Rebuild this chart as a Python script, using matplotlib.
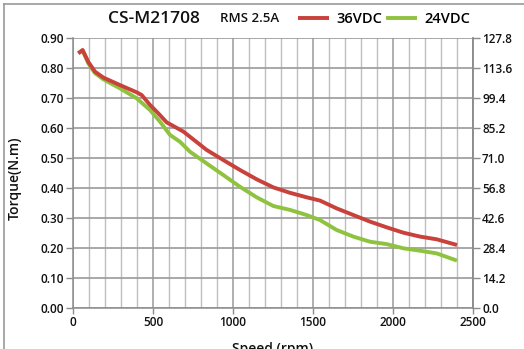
import matplotlib
matplotlib.use("Agg")
import matplotlib.pyplot as plt
from matplotlib.lines import Line2D
from matplotlib.ticker import MultipleLocator, FixedLocator

# Torque-speed curves for CS-M21708 at RMS 2.5A
speed_36 = [33, 60, 96, 137, 190, 294, 398, 429, 481, 533, 585, 690, 835, 940,
            1044, 1148, 1252, 1356, 1460, 1544, 1648, 1752, 1856, 1960, 2065, 2169,
            2273, 2400]
torque_36 = [0.849, 0.860, 0.820, 0.788, 0.768, 0.743, 0.719, 0.710, 0.677, 0.649,
             0.619, 0.588, 0.527, 0.493, 0.460, 0.429, 0.402, 0.384, 0.369,
             0.358, 0.332, 0.310, 0.288, 0.269, 0.251, 0.238, 0.229, 0.210]

speed_24 = [33, 60, 96, 137, 190, 294, 398, 481, 544, 606, 669, 731, 835, 940, 1044,
            1148, 1252, 1356, 1460, 1544, 1648, 1752, 1856, 1960, 2065, 2169, 2273,
            2400]
torque_24 = [0.849, 0.858, 0.815, 0.783, 0.762, 0.732, 0.699, 0.660, 0.621, 0.577,
             0.554, 0.521, 0.482, 0.443, 0.404, 0.369, 0.340, 0.327, 0.310, 0.293,
             0.260, 0.238, 0.221, 0.213, 0.199, 0.191, 0.182, 0.158]

yticks_left = [0.0, 0.1, 0.2, 0.3, 0.4, 0.5, 0.6, 0.7, 0.8, 0.9]
yticks_right = [0.0, 14.2, 28.4, 42.6, 56.8, 71.0, 85.2, 99.4, 113.6, 127.8]
xticks = [0, 500, 1000, 1500, 2000, 2500]

RED = "#c8413b"
GREEN = "#8fc33f"
FONT = "Open Sans"

plt.rcParams["font.family"] = [FONT, "DejaVu Sans"]

fig = plt.figure(figsize=(5.24, 3.49), dpi=100)
ax = fig.add_axes([73 / 524, 1 - 308 / 349, 400 / 524, 270 / 349])

ax.plot(speed_36, torque_36, color=RED, lw=2.8, solid_capstyle="butt", label="36VDC", zorder=4)
ax.plot(speed_24, torque_24, color=GREEN, lw=2.8, solid_capstyle="butt", label="24VDC", zorder=3)

ax.set_xlim(0, 2500)
ax.set_ylim(0, 0.9)
ax.xaxis.set_major_locator(FixedLocator(xticks))
ax.xaxis.set_minor_locator(MultipleLocator(100))
ax.yaxis.set_major_locator(FixedLocator(yticks_left))
ax.set_yticklabels([f"{v:.2f}" for v in yticks_left])

ax.grid(which="minor", axis="x", color="#bdbdbd", lw=1.0)
ax.grid(which="major", axis="x", color="#9a9a9a", lw=1.1)
ax.grid(which="major", axis="y", color="#9a9a9a", lw=1.2)
ax.set_axisbelow(True)

ax.spines["top"].set_visible(False)
for side in ("left", "bottom", "right"):
    ax.spines[side].set_color("#8c8c8c")
    ax.spines[side].set_linewidth(1.1)

ax.tick_params(axis="y", which="major", direction="out", length=5, width=1,
               color="#8c8c8c", pad=1.5)
ax.tick_params(axis="x", which="major", direction="out", length=4, width=1,
               color="#8c8c8c", pad=2)
ax.tick_params(axis="x", which="minor", length=0)
for lab in ax.get_xticklabels() + ax.get_yticklabels():
    lab.set_fontsize(8.5)
    lab.set_fontweight("semibold")
    lab.set_color("#111111")

ax2 = ax.twinx()
ax2.set_ylim(0, 127.8)
ax2.yaxis.set_major_locator(FixedLocator(yticks_right))
ax2.set_yticklabels([f"{v:.1f}" for v in yticks_right])
ax2.tick_params(axis="y", direction="out", length=5, width=1, color="#8c8c8c", pad=1.5)
for lab in ax2.get_yticklabels():
    lab.set_fontsize(8.5)
    lab.set_fontweight("semibold")
    lab.set_color("#111111")
for side in ("top", "left", "bottom"):
    ax2.spines[side].set_visible(False)
ax2.spines["right"].set_color("#8c8c8c")
ax2.spines["right"].set_linewidth(1.1)

ax.set_ylabel("Torque(N.m)", fontsize=10, fontweight="semibold", color="#111111")
ax.yaxis.set_label_coords(-0.128, 0.48)
ax.set_xlabel("Speed (rpm)", fontsize=10, fontweight="semibold", color="#111111")
ax.xaxis.set_label_coords(0.5, -0.15)
ax.xaxis.label.set_va("center")

fig.text(154 / 524, 1 - 19 / 349, "CS-M21708", fontsize=12.5, fontweight="semibold",
         color="#111111", ha="center", va="center")
fig.text(250 / 524, 1 - 19 / 349, "RMS 2.5A", fontsize=9.5, fontweight="semibold",
         color="#111111", ha="center", va="center")

ax.legend(loc="center left", bbox_to_anchor=(298 / 524, 1 - 19 / 349),
          bbox_transform=fig.transFigure, ncol=2, frameon=False,
          handlelength=2.1, handletextpad=0.5, columnspacing=0.3,
          borderpad=0, borderaxespad=0,
          prop={"family": FONT, "size": 10.5, "weight": "semibold"})

# outer frame (left and top edges)
fig.add_artist(Line2D([3.5 / 524, 3.5 / 524], [0, 1 - 3.5 / 349], transform=fig.transFigure,
                      color="#9a9a9a", lw=1.2))
fig.add_artist(Line2D([3.5 / 524, 1], [1 - 3.5 / 349, 1 - 3.5 / 349], transform=fig.transFigure,
                      color="#9a9a9a", lw=1.2))

fig.savefig("out.png", dpi=100)
